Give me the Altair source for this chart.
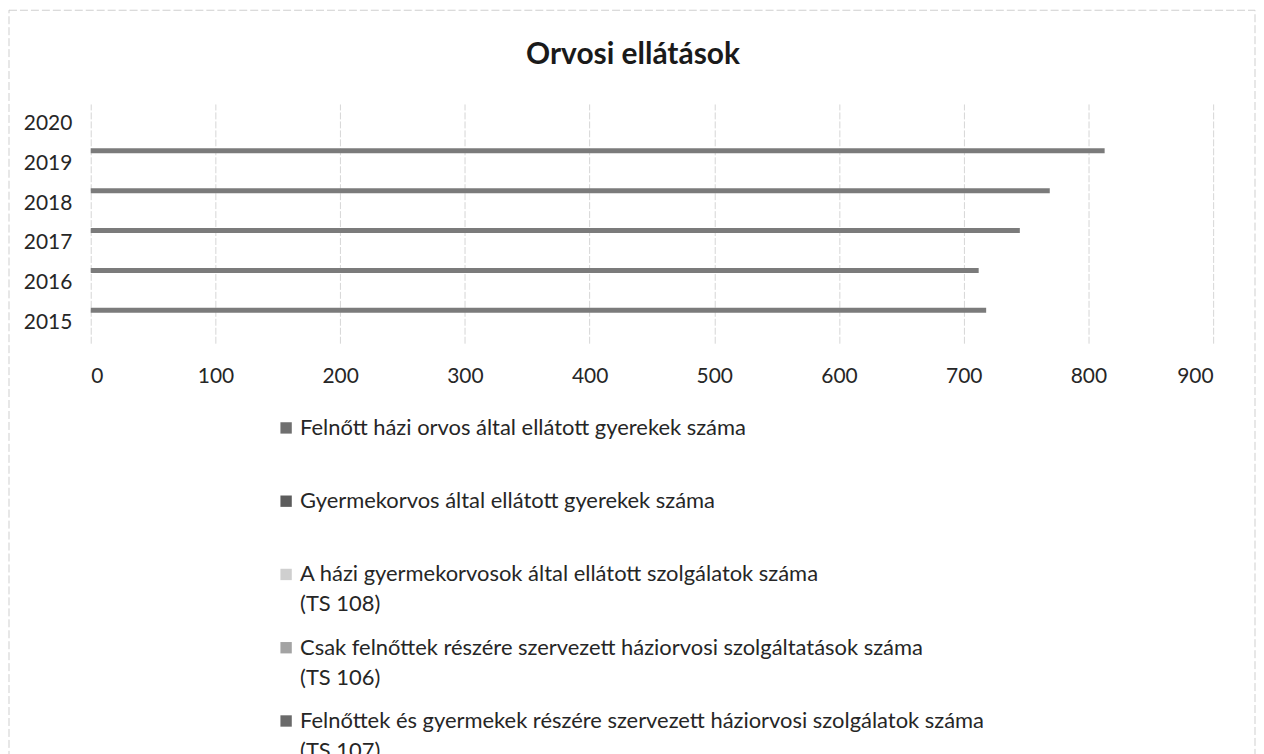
import altair as alt
import pandas as pd

# ---- data ----
years = ["2015", "2016", "2017", "2018", "2019", "2020"]
bar_years = ["2015", "2016", "2017", "2018", "2019"]
bar_values = [718, 712, 745, 769, 813]
x_ticks = [0, 100, 200, 300, 400, 500, 600, 700, 800, 900]

series_line1 = [
    "Felnőtt házi orvos által ellátott gyerekek száma",
    "Gyermekorvos által ellátott gyerekek száma",
    "A házi gyermekorvosok által ellátott szolgálatok száma",
    "Csak felnőttek részére szervezett háziorvosi szolgáltatások száma",
    "Felnőttek és gyermekek részére szervezett háziorvosi szolgálatok száma",
]
series_line2 = ["", "", "(TS 108)", "(TS 106)", "(TS 107)"]
series_colors = ["#6f6f6f", "#5c5c5c", "#cfcfcf", "#a3a3a3", "#6a6a6a"]

FONT = "Lato"

bars_df = pd.DataFrame({"year": bar_years, "value": bar_values})

bars = alt.Chart(bars_df).mark_bar(size=5, yOffset=-13, color="#7b7b7b").encode(
    x=alt.X(
        "value:Q",
        scale=alt.Scale(domain=[0, 900], nice=False),
        axis=alt.Axis(
            values=x_ticks, title=None, domain=False, ticks=False,
            labelPadding=22, labelFontSize=21, labelColor="#262626",
            grid=True, gridColor="#d6d6d6", gridWidth=1, gridDash=[7, 2],
        ),
    ),
    y=alt.Y(
        "year:N",
        scale=alt.Scale(domain=years[::-1], paddingInner=0, paddingOuter=0),
        axis=alt.Axis(
            title=None, domain=False, ticks=False, grid=False,
            labelPadding=19, labelFontSize=21, labelColor="#262626",
        ),
    ),
)

main = bars.properties(
    width=1126,
    height=240,
    title=alt.TitleParams(
        "Orvosi ellátások", font=FONT, fontSize=30, fontWeight="bold",
        color="#1a1a1a", anchor="middle", offset=34, dx=-19,
    ),
)

legend_df = pd.DataFrame({
    "line1": series_line1,
    "line2": series_line2,
    "color": series_colors,
})

ly = alt.Y("line1:N", sort=series_line1,
           scale=alt.Scale(type="point", padding=0), axis=None)

leg_sym = alt.Chart(legend_df).mark_square(size=130, opacity=1).encode(
    x=alt.value(196), y=ly,
    color=alt.Color("color:N", scale=None, legend=None),
)
leg_t1 = alt.Chart(legend_df).mark_text(
    align="left", baseline="middle", font=FONT, fontSize=22, color="#262626"
).encode(x=alt.value(210), y=ly, text="line1:N")
leg_t2 = alt.Chart(legend_df).mark_text(
    align="left", baseline="middle", font=FONT, fontSize=22, color="#262626", dy=30
).encode(x=alt.value(210), y=ly, text="line2:N")

# light outer chart frame (decoration), placed relative to the legend panel
frame = alt.Chart(pd.DataFrame({"a": [0]})).mark_rect(
    fillOpacity=0, stroke="#cfcfcf", strokeWidth=1, strokeDash=[8, 3]
).encode(
    x=alt.value(-82), x2=alt.value(1168), y=alt.value(-419), y2=alt.value(373)
)

legend = alt.layer(frame, leg_sym, leg_t1, leg_t2).properties(width=1126, height=294)

chart = alt.vconcat(main, legend, spacing=85, bounds="flush").properties(
    padding=0
).configure(font=FONT, background="white").configure_view(strokeWidth=0)

chart.save("out.html", embed_options={"renderer": "svg", "actions": False})
